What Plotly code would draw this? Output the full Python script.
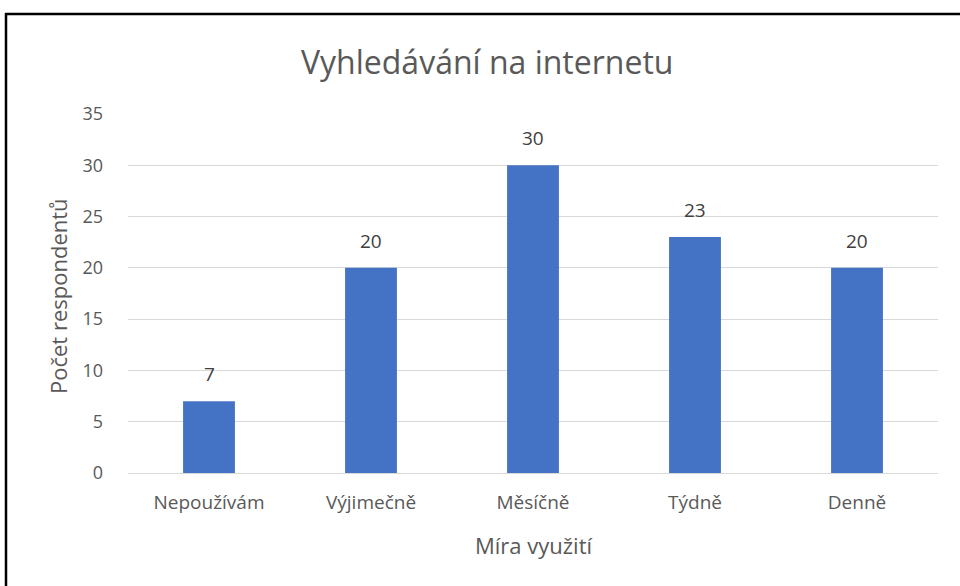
import plotly.graph_objects as go

categories = ["Nepoužívám", "Výjimečně", "Měsíčně", "Týdně", "Denně"]
values = [7, 20, 30, 23, 20]
y_ticks = [0, 5, 10, 15, 20, 25, 30, 35]

title_text = "Vyhledávání na internetu"
x_title = "Míra využití"
y_title = "Počet respondentů"

W, H = 960, 586
PL, PR, PT, PB = 128, 938, 114, 473  # plot area in page pixels
L, T = PL, PT
R, B = W - PR, H - PB
FONT = "Open Sans, Noto Sans, sans-serif"
GRAY = "#595959"

pw, ph = PR - PL, PB - PT

def px(x):
    return (x - PL) / pw

def py(y):
    return (PB - y) / ph

fig = go.Figure(go.Bar(
    x=categories, y=values,
    marker=dict(color="#4472C4", line=dict(width=0)),
    width=0.32,
))

for c, v in zip(categories, values):
    fig.add_annotation(x=c, y=v, xref="x", yref="y", text=str(v), showarrow=False,
                       yanchor="bottom", yshift=12,
                       font=dict(family=FONT, size=19, color="#404040"))

fig.add_annotation(x=px(487), y=py(62), xref="paper", yref="paper", text=title_text,
                   showarrow=False, xanchor="center", yanchor="middle",
                   font=dict(family=FONT, size=32, color=GRAY))
fig.add_annotation(x=px(533), y=py(545), xref="paper", yref="paper", text=x_title,
                   showarrow=False, xanchor="center", yanchor="middle",
                   font=dict(family=FONT, size=22, color=GRAY))
fig.add_annotation(x=px(58), y=py(296), xref="paper", yref="paper", text=y_title,
                   showarrow=False, xanchor="center", yanchor="middle", textangle=-90,
                   font=dict(family=FONT, size=22, color=GRAY))

# chart frame (top and left edges visible)
fig.add_shape(type="line", xref="paper", yref="paper", x0=px(5), x1=px(975), y0=py(14), y1=py(14),
              line=dict(color="black", width=2.5))
fig.add_shape(type="line", xref="paper", yref="paper", x0=px(6), x1=px(6), y0=py(13), y1=py(600),
              line=dict(color="black", width=2.5))

fig.update_layout(
    width=W, height=H,
    margin=dict(l=L, r=R, t=T, b=B),
    paper_bgcolor="white", plot_bgcolor="white",
    showlegend=False,
    font=dict(family=FONT, color=GRAY),
    xaxis=dict(showgrid=False, showline=True, linecolor="#D9D9D9", linewidth=1,
               tickfont=dict(family=FONT, size=19, color=GRAY), ticklabelstandoff=12),
    yaxis=dict(range=[0, 35], tickvals=y_ticks, showgrid=True, gridcolor="#D9D9D9", gridwidth=1,
               zeroline=False, showline=False,
               tickfont=dict(family=FONT, size=18, color=GRAY), ticklabelstandoff=24),
)

fig.write_html("out.html", config={"displayModeBar": False},
               post_script="document.body.style.margin='0';")
